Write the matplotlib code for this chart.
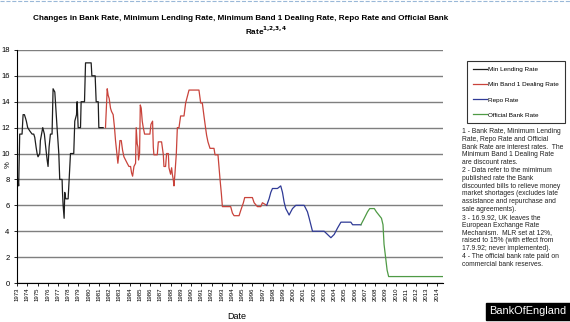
import numpy as np
import matplotlib.pyplot as plt
from matplotlib.lines import Line2D

plt.rcParams['font.family'] = ['Liberation Sans', 'DejaVu Sans']

# values (year, % rate)
mlr_years = [1972.93, 1973.03, 1973.10, 1973.16, 1973.26, 1973.49, 1973.59, 1973.72, 1973.82,
             1973.91, 1974.04, 1974.24, 1974.47, 1974.63, 1974.73, 1974.86, 1974.96, 1975.05,
             1975.22, 1975.28, 1975.51, 1975.67, 1975.80, 1975.94, 1976.03, 1976.13, 1976.26,
             1976.42, 1976.52, 1976.69, 1976.75, 1976.91, 1977.08, 1977.17, 1977.40, 1977.44,
             1977.50, 1977.60, 1977.66, 1977.76, 1977.99, 1978.09, 1978.22, 1978.54, 1978.64,
             1978.81, 1978.87, 1978.97, 1979.07, 1979.20, 1979.26, 1979.59, 1979.69, 1980.24,
             1980.31, 1980.63, 1980.73, 1980.93, 1980.99, 1981.41]
mlr_rates = [8.2, 7.8, 8.0, 7.5, 11.5, 11.5, 13.0, 13.0, 12.75,
             12.5, 12.0, 11.75, 11.5, 11.5, 11.25, 10.5, 10.0, 9.75,
             10.0, 11.0, 12.0, 11.5, 10.5, 9.5, 9.0, 10.5, 11.5,
             11.5, 15.0, 14.75, 14.0, 12.0, 10.0, 8.0, 8.0, 7.0,
             6.0, 5.0, 7.0, 6.5, 6.5, 8.0, 10.0, 10.0, 12.5,
             13.0, 14.0, 12.0, 12.0, 12.0, 14.0, 14.0, 17.0, 17.0,
             16.0, 16.0, 14.0, 14.0, 12.0, 12.0]

band1_years = [1981.64, 1981.81, 1981.90, 1982.00, 1982.13, 1982.23, 1982.39, 1982.52, 1982.62,
               1982.72, 1982.85, 1982.95, 1983.05, 1983.18, 1983.31, 1983.44, 1983.60, 1983.76,
               1983.93, 1984.09, 1984.19, 1984.29, 1984.42, 1984.58, 1984.64, 1984.74, 1984.81,
               1984.87, 1984.97, 1985.04, 1985.13, 1985.23, 1985.33, 1985.46, 1985.98, 1986.08,
               1986.24, 1986.31, 1986.37, 1986.70, 1986.80, 1987.12, 1987.29, 1987.35, 1987.51,
               1987.61, 1987.78, 1987.84, 1988.00, 1988.10, 1988.17, 1988.26, 1988.33, 1988.43,
               1988.56, 1988.66, 1988.82, 1988.98, 1989.31, 1989.47, 1989.80, 1990.77, 1990.94,
               1991.10, 1991.26, 1991.43, 1991.52, 1991.65, 1991.85, 1992.24, 1992.34, 1992.63,
               1992.83, 1992.96, 1993.06, 1993.87, 1994.04, 1994.20, 1994.69, 1994.85, 1995.11,
               1995.24, 1995.99, 1996.16, 1996.48, 1996.81, 1996.97, 1997.39]
band1_rates = [12.0, 15.0, 14.5, 14.25, 13.5, 13.25, 13.0, 12.0, 11.0,
               10.25, 9.25, 10.0, 11.0, 11.0, 10.25, 9.75, 9.5, 9.25,
               9.0, 9.0, 8.5, 8.25, 9.0, 9.25, 12.0, 10.75, 10.5,
               9.5, 10.0, 13.75, 13.5, 12.5, 12.0, 11.5, 11.5, 12.25,
               12.5, 10.5, 9.9, 9.9, 10.9, 10.9, 9.9, 9.0, 9.0,
               10.0, 10.0, 8.9, 8.4, 8.9, 8.4, 8.0, 7.5, 8.5,
               10.0, 12.0, 12.0, 12.9, 12.9, 13.9, 14.9, 14.9, 13.9,
               13.9, 12.9, 11.9, 11.4, 10.9, 10.4, 10.4, 9.9, 9.9,
               8.0, 6.9, 5.9, 5.9, 5.4, 5.2, 5.2, 5.6, 6.2,
               6.6, 6.6, 6.2, 5.9, 5.9, 6.2, 6.0]

repo_years = [1997.39, 1997.62, 1997.79, 1997.95, 1998.44, 1998.76, 1998.93, 1999.09, 1999.25,
              1999.42, 1999.58, 1999.74, 1999.91, 2000.23, 2001.05, 2001.21, 2001.37, 2001.54,
              2001.70, 2001.86, 2003.00, 2003.33, 2003.66, 2003.98, 2004.31, 2004.64, 2005.61,
              2005.78, 2006.59]
repo_rates = [6.0, 6.5, 7.0, 7.3, 7.3, 7.5, 7.0, 6.25, 5.75,
              5.5, 5.25, 5.5, 5.75, 6.0, 6.0, 5.75, 5.5, 5.0,
              4.5, 4.0, 4.0, 3.75, 3.5, 3.75, 4.25, 4.7, 4.7,
              4.5, 4.5]

obr_years = [2006.59, 2006.92, 2007.24, 2007.45, 2007.9, 2008.1, 2008.35, 2008.6, 2008.75,
             2008.85, 2009.0, 2009.15, 2009.3, 2014.6]
obr_rates = [4.5, 5.0, 5.5, 5.75, 5.75, 5.5, 5.25, 5.0, 4.5,
             3.0, 2.0, 1.0, 0.5, 0.5]

series_names = ['Min Lending Rate', 'Min Band 1 Dealing Rate', 'Repo Rate', 'Official Bank Rate']
series_colors = ['#1e1e1e', '#c9433b', '#2f3a96', '#4f9a45']
year_ticks = list(range(1973, 2015))

notes = ("1 - Bank Rate, Minimum Lending\n"
         "Rate, Repo Rate and Official\n"
         "Bank Rate are interest rates.  The\n"
         "Minimum Band 1 Dealing Rate\n"
         "are discount rates.\n"
         "2 - Data refer to the mimimum\n"
         "published rate the Bank\n"
         "discounted bills to relieve money\n"
         "market shortages (excludes late\n"
         "assistance and repurchase and\n"
         "sale agreements).\n"
         "3 - 16.9.92, UK leaves the\n"
         "European Exchange Rate\n"
         "Mechanism.  MLR set at 12%,\n"
         "raised to 15% (with effect from\n"
         "17.9.92; never implemented).\n"
         "4 - The official bank rate paid on\n"
         "commercial bank reserves.")

fig = plt.figure(figsize=(5.7, 3.22), dpi=100)
ax = fig.add_axes([0.029, 0.121, 0.748, 0.724])

xs = [mlr_years, band1_years, repo_years, obr_years]
ys = [mlr_rates, band1_rates, repo_rates, obr_rates]
for x, y, c in zip(xs, ys, series_colors):
    ax.plot(x, y, color=c, lw=0.9)

ax.set_xlim(1972.95, 2014.6)
ax.set_ylim(0, 18)
ax.set_yticks(np.arange(0, 19, 2))
ax.set_xticks(year_ticks)
ax.set_xticklabels([str(y) for y in year_ticks], rotation=90, fontsize=4.3)
ax.tick_params(axis='y', labelsize=5.5, length=2, width=0.6, pad=3)
ax.tick_params(axis='x', length=2, width=0.6, pad=1.5)
ax.grid(axis='y', color='#7f7f7f', lw=1.0)
ax.set_axisbelow(True)
for s in ['top', 'right']:
    ax.spines[s].set_visible(False)
ax.spines['left'].set_linewidth(0.8)
ax.spines['bottom'].set_linewidth(0.8)

fig.text(0.014, 0.49, '%', rotation=90, fontsize=5.5, ha='center', va='center')
fig.text(0.415, 1 - 312 / 322, 'Date', fontsize=6.5, ha='center', va='top')

fig.text(0.422, 1 - 18 / 322,
         'Changes in Bank Rate, Minimum Lending Rate, Minimum Band 1 Dealing Rate, Repo Rate and Official Bank',
         fontsize=5.9, fontweight='bold', ha='center', va='center')
fig.text(0.466, 1 - 31 / 322, r'Rate$^{\mathbf{1{,}2{,}3{,}4}}$',
         fontsize=5.9, fontweight='bold', ha='center', va='center')

handles = [Line2D([], [], color=c, lw=0.9) for c in series_colors]
leg = fig.legend(handles, series_names, loc='upper left',
                 bbox_to_anchor=(464 / 570, 1 - 58 / 322), fontsize=4.6,
                 handlelength=2.2, handletextpad=0.2, labelspacing=1.5,
                 borderpad=0.9, frameon=True, fancybox=False)
leg.get_frame().set_edgecolor('black')
leg.get_frame().set_linewidth(0.8)

fig.text(462 / 570, 1 - 128 / 322, notes, fontsize=4.9, linespacing=1.16,
         ha='left', va='top', color='#222222')

fig.text(528 / 570, 1 - 311.5 / 322, 'BankOfEngland', fontsize=7.9, color='white',
         ha='center', va='center',
         bbox=dict(facecolor='black', edgecolor='black', pad=0.3, boxstyle='square'))

fig.add_artist(Line2D([0, 1], [0.997, 0.997], color='#9ab8d8', lw=0.8, ls='--'))

fig.savefig('out.png', dpi=100)
